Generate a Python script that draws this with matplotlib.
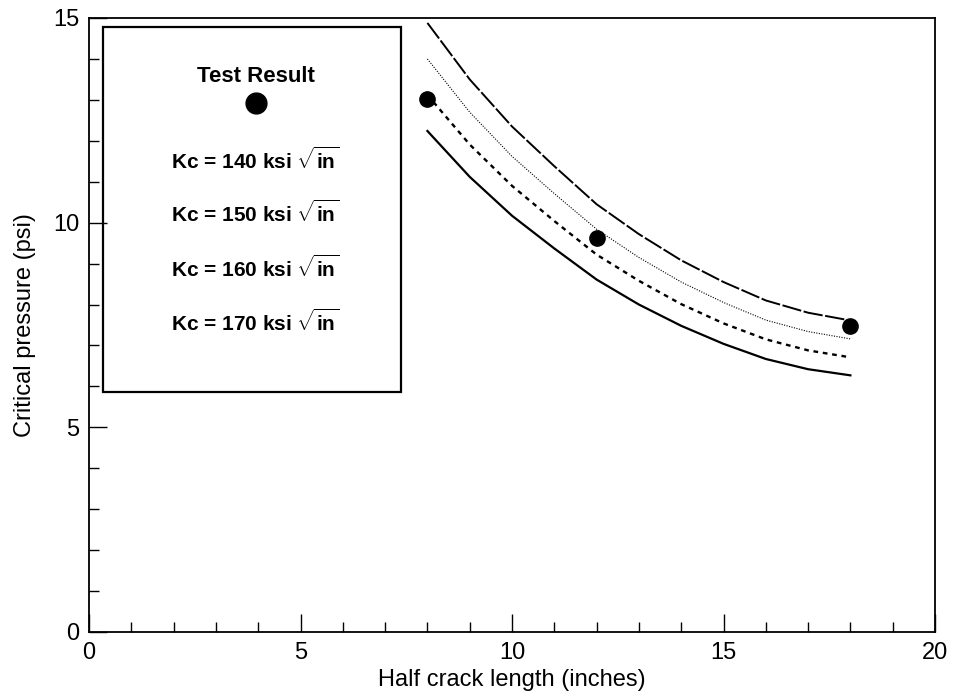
import matplotlib
matplotlib.use("Agg")
import matplotlib.pyplot as plt
from matplotlib.ticker import MultipleLocator

plt.rcParams['font.family'] = ['Liberation Sans', 'DejaVu Sans']
plt.rcParams['mathtext.fontset'] = 'custom'
plt.rcParams['mathtext.rm'] = 'Liberation Sans:bold'
plt.rcParams['mathtext.bf'] = 'Liberation Sans:bold'

# Data
crack_length = [8, 9, 10, 11, 12, 13, 14, 15, 16, 17, 18]
kc140 = [12.24, 11.12, 10.17, 9.37, 8.61, 8.00, 7.48, 7.04, 6.67, 6.42, 6.27]
kc150 = [13.12, 11.91, 10.90, 10.04, 9.22, 8.58, 8.01, 7.54, 7.15, 6.88, 6.71]
kc160 = [14.00, 12.70, 11.62, 10.71, 9.84, 9.15, 8.55, 8.05, 7.62, 7.34, 7.16]
kc170 = [14.88, 13.50, 12.35, 11.38, 10.45, 9.72, 9.08, 8.55, 8.10, 7.80, 7.61]
test_x = [8, 12, 18]
test_y = [13.03, 9.62, 7.47]
legend_labels = ["Kc = 140 ksi", "Kc = 150 ksi", "Kc = 160 ksi", "Kc = 170 ksi"]

fig = plt.figure(figsize=(9.55, 6.98), dpi=100)
ax = fig.add_axes([89/955, 1-632/698, 846/955, 614/698])

ax.plot(crack_length, kc140, color='black', lw=1.6, linestyle='-')
ax.plot(crack_length, kc150, color='black', lw=1.7, linestyle=(0, (2.0, 2.0)))
ax.plot(crack_length, kc160, color='black', lw=0.8, linestyle=(0, (1, 1.3)))
ax.plot(crack_length, kc170, color='black', lw=1.4, linestyle=(0, (10, 1.3)))
ax.plot(test_x, test_y, 'o', color='black', markersize=11, zorder=5)

ax.set_xlim(0, 20)
ax.set_ylim(0, 15)
ax.xaxis.set_major_locator(MultipleLocator(5))
ax.xaxis.set_minor_locator(MultipleLocator(1))
ax.yaxis.set_major_locator(MultipleLocator(5))
ax.yaxis.set_minor_locator(MultipleLocator(1))
ax.tick_params(which='both', direction='in', top=False, right=False, width=1.0)
ax.tick_params(which='major', length=13, labelsize=17, pad=7)
ax.tick_params(which='minor', length=7)
for s in ax.spines.values():
    s.set_linewidth(1.3)

ax.set_xlabel("Half crack length (inches)", fontsize=17, labelpad=4)
ax.set_ylabel("Critical pressure (psi)", fontsize=17, labelpad=12)

# Legend box (no line samples, as in the reference)
def px2ax(px, py):
    return ((px - 89) / 846, (632 - py) / 614)

x0, y0 = px2ax(103, 392)
x1, y1 = px2ax(401, 27)
rect = plt.Rectangle((x0, y0), x1 - x0, y1 - y0, transform=ax.transAxes,
                     fill=False, edgecolor='black', lw=1.6, zorder=6)
ax.add_patch(rect)
cx, ty = px2ax(256, 77)
ax.text(cx, ty, "Test Result", transform=ax.transAxes, ha='center', va='center',
        fontsize=16, fontweight='bold')
dx, dy = px2ax(256, 103)
ax.plot([dx], [dy], 'o', color='black', markersize=15, transform=ax.transAxes, zorder=7)
for lab, py in zip(legend_labels, [160, 213, 268, 322]):
    lx, ly = px2ax(171, py)
    ax.text(lx, ly, lab + r" $\sqrt{\mathrm{in}}$", transform=ax.transAxes,
            ha='left', va='center', fontsize=15, fontweight='bold')

fig.savefig("out.png", dpi=100)
